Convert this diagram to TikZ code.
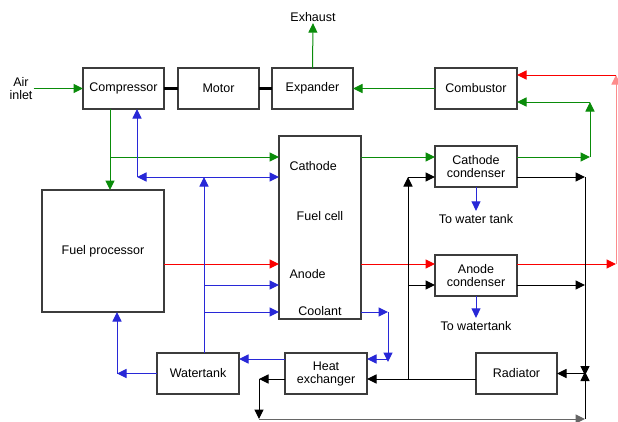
\documentclass[tikz,border=0pt]{standalone}
\usepackage{fontspec}
\setmainfont{Liberation Sans}
\usetikzlibrary{arrows.meta}
\definecolor{gline}{RGB}{10,140,10}
\definecolor{bline}{RGB}{40,40,215}
\definecolor{rline}{RGB}{250,0,0}
\definecolor{edge}{RGB}{60,60,60}
\begin{document}
\begin{tikzpicture}[x=1pt, y=-1pt, font=\fontsize{12.5}{13}\selectfont,
    box/.style={draw=edge, line width=1.1pt, inner sep=0pt, outer sep=0pt, align=center},
    flow/.style={line width=1pt, -{Triangle[length=9.5pt,width=9pt]}},
    gflow/.style={flow, gline}, rflow/.style={flow, rline},
    bflow/.style={flow, bline}, kflow/.style={flow, black}]
  \useasboundingbox (0,0) rectangle (618,421);
  % units: name / x / y / width / height / label
  \foreach \n/\x/\y/\w/\h/\t in {
      comp/123.5/88.5/81/41/Compressor, motor/218.5/88.5/81/41/Motor,
      exp/312.5/88.5/81/41/Expander, comb/476/88.5/82/41/Combustor,
      cc/476/166.5/82/41/{Cathode\\condenser}, ac/476/275.5/82/41/{Anode\\condenser},
      fc/320/227.5/82/183/{}, fp/103/251/122/122/{Fuel processor},
      wt/198/373.5/82/41/Watertank, hx/326/373.5/82/41/{Heat\\exchanger},
      rad/516.5/373.5/81/41/Radiator} {
    \node[box, minimum width=\w pt, minimum height=\h pt] (\n) at (\x,\y) {\t};
  }
  \node[align=center, inner sep=1pt] (air) at (21,88.5) {Air\\inlet};
  \node (exh) at (313,17) {Exhaust};
  \node[anchor=base west] (cath) at (286,170) {Cathode};
  \node (cell) at (320,216) {Fuel cell};
  \node[anchor=base west] (anod) at (286,278) {Anode};
  \node (cool) at (320,311) {Coolant};
  \node (tw1) at (476,219) {To water tank};
  \node (tw2) at (476,326) {To watertank};
  \foreach \c/\x/\y in {g1/110/157, g2/590/157, g3/590/102, ry/0/264, r1/616/264, r2/616/75,
      b1/137/177, b2/204/177, b3/204/285, b4/204/312, b5/117/373.5, b6/0/359, b7/388/312,
      b8/388/359, k1/408/379, k2/408/177, k3/408/285, k4/259/379, k5/259/419, k6/585/419,
      k7/585/177, k8/585/285, k9/585/373.5}
    \coordinate (\c) at (\x,\y);
  % shaft
  \draw[line width=2.6pt] (comp.east) -- (motor.west) (motor.east) -- (exp.west);
  % air
  \draw[gflow] (air.east) -- (comp.west);
  \draw[gflow] (comp.south -| g1) -- (fp.north -| g1);
  \draw[gflow] (g1) -- (fc.west |- g1);
  \draw[gflow] (exp.north) -- ([yshift=2pt]exh.south);
  \draw[gflow] (comb.west) -- (exp.east);
  \draw[gflow] (fc.east |- g1) -- (cc.west |- g1);
  \draw[gflow] (cc.east |- g2) -- (g2);
  \draw[gflow] (g2) -- (g3);
  \draw[gflow] (g3) -- (comb.east |- g3);
  % hydrogen
  \draw[rflow] (fp.east |- ry) -- (fc.west |- ry);
  \draw[rflow] (fc.east |- ry) -- (ac.west |- ry);
  \draw[rflow] (ac.east |- ry) -- (r1);
  \draw[rflow, rline!45] (r1) -- (r2);
  \draw[rflow] (r2) -- (comb.east |- r2);
  % water
  \draw[bflow] (wt.north -| b2) -- (b2);
  \draw[bflow] (b2) -- (b1);
  \draw[bflow] (b1) -- (comp.south -| b1);
  \draw[bflow] (b2) -- (fc.west |- b2);
  \draw[bflow] (b3) -- (fc.west |- b3);
  \draw[bflow] (b4) -- (fc.west |- b4);
  \draw[bflow] (wt.west) -- (b5);
  \draw[bflow] (b5) -- (fp.south -| b5);
  \draw[bflow] (hx.west |- b6) -- (wt.east |- b6);
  \draw[bflow] (fc.east |- b7) -- (b7);
  \draw[bflow] (b7) -- ([yshift=-3pt]b8);
  \draw[bflow] (b8) -- (hx.east |- b8);
  \draw[bflow] (cc.south) -- (tw1.north);
  \draw[bflow] (ac.south) -- (tw2.north);
  % coolant loop
  \draw[kflow] (rad.west |- k1) -- (hx.east |- k1);
  \draw[kflow] (k1) -- (k2);
  \draw[kflow] (k2) -- (cc.west |- k2);
  \draw[kflow] (k3) -- (ac.west |- k3);
  \draw[kflow] (hx.west |- k1) -- (k4);
  \draw[kflow] (k4) -- (k5);
  \draw[kflow, black!60] (k5) -- (k6);
  \draw[kflow] (cc.east |- k7) -- (k7);
  \draw[kflow] (ac.east |- k8) -- (k8);
  \draw[kflow] (k7) -- ([yshift=-2pt]k9);
  \draw[kflow] (k6) -- ([yshift=2pt]k9);
  \draw[kflow] (k9) -- (rad.east |- k9);
\end{tikzpicture}
\end{document}
